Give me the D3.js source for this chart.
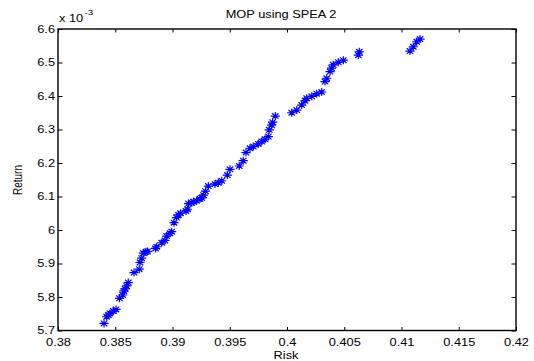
<!DOCTYPE html>
<html>
<head>
<meta charset="utf-8">
<script src="https://cdn.jsdelivr.net/npm/d3@7"></script>
<style>
  body { margin: 0; background: #fff; }
  svg { display: block; font-family: "Liberation Sans", Arial, sans-serif; }
</style>
</head>
<body>
<svg id="chart" width="534" height="361"></svg>
<script>
// risk (x) and return (y, in units of 1e-3)
var risk = [0.38402, 0.38425, 0.38441, 0.38454, 0.38483, 0.38507, 0.38537, 0.38565, 0.38576, 0.38585,
  0.38600, 0.38614, 0.38664, 0.38710, 0.38716, 0.38731, 0.38745, 0.38769, 0.38782, 0.38852,
  0.38862, 0.38906, 0.38934, 0.38949, 0.38978, 0.38993, 0.39013, 0.39035, 0.39052, 0.39070,
  0.39118, 0.39131, 0.39140, 0.39168, 0.39183, 0.39211, 0.39240, 0.39255, 0.39271, 0.39288,
  0.39313, 0.39371, 0.39400, 0.39430, 0.39479, 0.39502, 0.39583, 0.39618, 0.39642, 0.39677,
  0.39706, 0.39749, 0.39779, 0.39808, 0.39837, 0.39845, 0.39866, 0.39875, 0.39898, 0.40041,
  0.40085, 0.40128, 0.40157, 0.40172, 0.40216, 0.40259, 0.40303, 0.40332, 0.40347, 0.40376,
  0.40390, 0.40404, 0.40448, 0.40492, 0.40623, 0.40631, 0.41074, 0.41103, 0.41133, 0.41162]
var ret = [5.721, 5.741, 5.746, 5.751, 5.758, 5.763, 5.796, 5.806, 5.818, 5.824,
  5.833, 5.843, 5.873, 5.883, 5.903, 5.916, 5.931, 5.935, 5.936, 5.945,
  5.950, 5.962, 5.969, 5.982, 5.990, 5.995, 6.022, 6.037, 6.045, 6.050,
  6.057, 6.062, 6.079, 6.081, 6.084, 6.087, 6.093, 6.096, 6.104, 6.116,
  6.131, 6.137, 6.141, 6.147, 6.164, 6.181, 6.191, 6.207, 6.231, 6.244,
  6.249, 6.257, 6.264, 6.271, 6.279, 6.299, 6.313, 6.322, 6.340, 6.350,
  6.358, 6.373, 6.386, 6.393, 6.399, 6.407, 6.412, 6.443, 6.453, 6.473,
  6.483, 6.493, 6.501, 6.507, 6.522, 6.532, 6.534, 6.547, 6.562, 6.570]

var xTicks = [0.38, 0.385, 0.39, 0.395, 0.4, 0.405, 0.41, 0.415, 0.42]
var yTicks = [5.7, 5.8, 5.9, 6, 6.1, 6.2, 6.3, 6.4, 6.5, 6.6]

var titleText = "MOP using SPEA 2"
var xTitle = "Risk"
var yTitle = "Return"

// picture is stretched sideways a bit, so text gets this x scale
var stretch = 1.28
var box = { left: 58, right: 516, top: 29, bottom: 330.5 }

var svg = d3.select("#chart")

var x = d3.scaleLinear().domain([0.38, 0.42]).range([box.left, box.right])
var y = d3.scaleLinear().domain([5.7, 6.6]).range([box.bottom, box.top])

var fmt = function (d) { return String(+d.toFixed(3)) }

// bottom axis with labels, ticks pointing inward
var xAxis = d3.axisBottom(x).tickValues(xTicks).tickFormat(fmt)
  .tickSizeInner(-3.5).tickSizeOuter(0).tickPadding(8)
var gx = svg.append("g")
  .attr("transform", "translate(0," + box.bottom + ")")
  .call(xAxis)

// left axis
var yAxis = d3.axisLeft(y).tickValues(yTicks).tickFormat(fmt)
  .tickSizeInner(-4.5).tickSizeOuter(0).tickPadding(3)
var gy = svg.append("g")
  .attr("transform", "translate(" + box.left + ",0)")
  .call(yAxis)

// top and right: ticks only
svg.append("g")
  .attr("transform", "translate(0," + box.top + ")")
  .call(d3.axisTop(x).tickValues(xTicks).tickFormat("").tickSizeInner(-3.5).tickSizeOuter(0))
svg.append("g")
  .attr("transform", "translate(" + box.right + ",0)")
  .call(d3.axisRight(y).tickValues(yTicks).tickFormat("").tickSizeInner(-4.5).tickSizeOuter(0))

svg.selectAll(".domain").remove()
svg.selectAll(".tick line").attr("stroke", "#000").attr("stroke-width", 1)

gx.selectAll("text")
  .attr("font-size", 10).attr("font-family", null).attr("fill", "#000")
  .attr("transform", "scale(" + stretch + ",1)")
gy.selectAll("text")
  .attr("font-size", 10).attr("font-family", null).attr("fill", "#000")
  .attr("x", -3 / stretch)
  .attr("transform", "scale(" + stretch + ",1)")

// frame
svg.append("rect")
  .attr("x", box.left).attr("y", box.top)
  .attr("width", box.right - box.left).attr("height", box.bottom - box.top)
  .attr("fill", "none").attr("stroke", "#000").attr("stroke-width", 1.4)

// asterisk markers
var sx = 4.6, sy = 4, dx = 3.2, dy = 2.8
var star = "M" + (-sx) + ",0h" + (2 * sx) + "M0," + (-sy) + "v" + (2 * sy) +
  "M" + (-dx) + "," + (-dy) + "l" + (2 * dx) + "," + (2 * dy) +
  "M" + (-dx) + "," + dy + "l" + (2 * dx) + "," + (-2 * dy)

svg.append("g")
  .selectAll("path")
  .data(d3.range(risk.length))
  .enter().append("path")
  .attr("transform", function (i) { return "translate(" + x(risk[i]) + "," + y(ret[i]) + ")" })
  .attr("d", star)
  .attr("fill", "none")
  .attr("stroke", "#0000ff")
  .attr("stroke-width", 1.2)

// texts
function label(px, py, str, size, extra) {
  var g = svg.append("g")
    .attr("transform", "translate(" + px + "," + py + ")" + (extra || " scale(" + stretch + ",1)"))
  return g.append("text")
    .attr("font-size", size)
    .attr("fill", "#000")
    .text(str)
}

label(281, 18, titleText, 10).attr("text-anchor", "middle")
label(286, 359, xTitle, 10).attr("text-anchor", "middle")
label(22, 180, yTitle, 10, " rotate(-90) scale(1," + stretch + ")").attr("text-anchor", "middle")

// exponent note above the y axis
label(59, 22, "x 10", 10)
label(84.5, 15, "-3", 7.5)
</script>
</body>
</html>
